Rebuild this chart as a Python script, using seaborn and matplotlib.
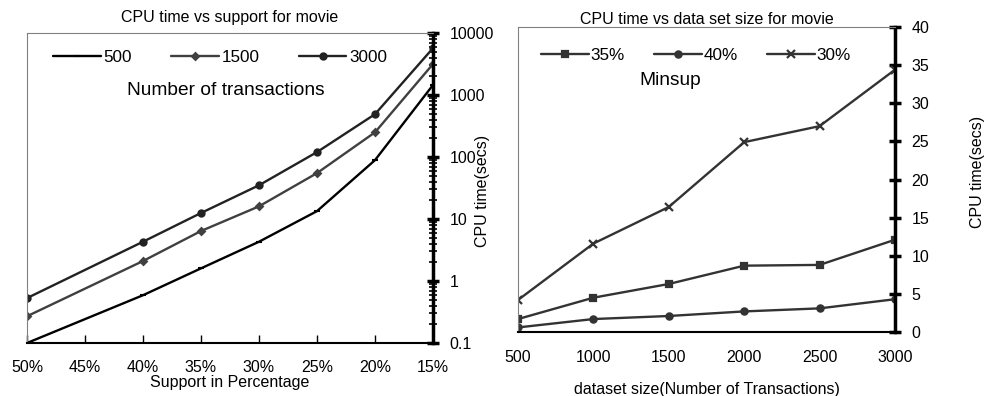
import numpy as np
import pandas as pd
import seaborn as sns
import matplotlib.pyplot as plt
from matplotlib.ticker import LogLocator, FixedLocator, NullFormatter

###############################################
# Data
###############################################

# left chart: cpu time vs support
support = [50, 40, 35, 30, 25, 20, 15]
support_ticks = [50, 45, 40, 35, 30, 25, 20, 15]
support_labels = ["50%", "45%", "40%", "35%", "30%", "25%", "20%", "15%"]
t500 = [0.1, 0.59, 1.6, 4.3, 13.4, 89, 1450]
t1500 = [0.27, 2.1, 6.4, 16, 55, 250, 3160]
t3000 = [0.53, 4.3, 12.5, 35, 120, 490, 5700]

# right chart: cpu time vs dataset size
dsize = [500, 1000, 1500, 2000, 2500, 3000]
m35 = [1.7, 4.5, 6.3, 8.7, 8.8, 12.1]
m40 = [0.6, 1.7, 2.1, 2.7, 3.1, 4.3]
m30 = [4.2, 11.6, 16.4, 24.9, 27.0, 34.4]

sns.set_style("white")
plt.rcParams['font.family'] = ['Liberation Sans', 'DejaVu Sans']
plt.rcParams['text.color'] = "black"
plt.rcParams['axes.labelcolor'] = "black"
plt.rcParams['xtick.color'] = "black"
plt.rcParams['ytick.color'] = "black"

fig = plt.figure(figsize=(9.85, 3.96), dpi=100)
ax1 = fig.add_axes([0.0274, 0.1338, 0.4122, 0.7829])
ax2 = fig.add_axes([0.5259, 0.1616, 0.3827, 0.7702])

FS = 11.5


def style_spines(ax):
    for s in ["left", "top"]:
        ax.spines[s].set_color("#808080")
        ax.spines[s].set_linewidth(0.8)
    ax.spines["bottom"].set_color("black")
    ax.spines["bottom"].set_linewidth(1.5)
    ax.spines["right"].set_color("black")
    ax.spines["right"].set_linewidth(2.5)
    ax.spines["right"].set_visible(True)
    ax.spines["top"].set_visible(True)


###############################################
# Left chart
###############################################
left_series = [("500", t500, "#000000", "_", 5), ("1500", t1500, "#404040", "D", 3.5),
               ("3000", t3000, "#222222", "o", 4.5)]
for name, vals, col, mk, ms in left_series:
    d = pd.DataFrame({"support": support, "cpu": vals})
    sns.lineplot(data=d, x="support", y="cpu", ax=ax1, color=col, marker=mk,
                 markersize=ms, markeredgecolor=col, markeredgewidth=1.5,
                 linewidth=1.7, label=name)

ax1.set_yscale("log")
ax1.set_ylim(0.1, 10000)
ax1.set_xlim(50, 15)
ax1.yaxis.tick_right()
ax1.yaxis.set_label_position("right")
ax1.yaxis.set_minor_locator(LogLocator(base=10, subs=np.arange(2, 10), numticks=10))
ax1.yaxis.set_minor_formatter(NullFormatter())
ax1.set_yticks([0.1, 1, 10, 100, 1000, 10000])
ax1.set_yticklabels(["0.1", "1", "10", "100", "1000", "10000"])
ax1.tick_params(axis="y", which="major", direction="inout", length=8, width=2.5,
                pad=8, labelsize=FS, colors="black", right=True, left=False)
ax1.tick_params(axis="y", which="minor", direction="inout", length=6, width=1.2,
                right=True, left=False)
ax1.xaxis.set_major_locator(FixedLocator(support_ticks))
ax1.set_xticklabels(support_labels)
ax1.tick_params(axis="x", direction="in", length=6, width=1, pad=12, labelsize=FS,
                bottom=True)
style_spines(ax1)

ax1.set_xlabel("Support in Percentage", fontsize=FS)
ax1.xaxis.set_label_coords(0.5, -0.103)
ax1.set_ylabel("CPU time(secs)", fontsize=FS)
ax1.yaxis.set_label_coords(1.103, 0.49)
ax1.set_title("CPU time vs support for movie", fontsize=FS, pad=8)

ax1.legend(ncol=3, frameon=False, loc="center", bbox_to_anchor=(0.475, 0.92),
           fontsize=12.3, handlelength=2.8, columnspacing=2.3, handletextpad=0.15)
ax1.text(0.49, 0.816, "Number of transactions", transform=ax1.transAxes,
         ha="center", va="center", fontsize=13.8)

###############################################
# Right chart
###############################################
right_series = [("35%", m35, "s", 4), ("40%", m40, "o", 4.5), ("30%", m30, "x", 6)]
for name, vals, mk, ms in right_series:
    d = pd.DataFrame({"size": dsize, "cpu": vals})
    sns.lineplot(data=d, x="size", y="cpu", ax=ax2, color="#333333", marker=mk,
                 markersize=ms, markeredgecolor="#333333", markeredgewidth=1.6,
                 linewidth=1.7, label=name)

ax2.set_xlim(500, 3000)
ax2.set_ylim(0, 40)
ax2.set_xticks(dsize)
ax2.set_yticks(range(0, 41, 5))
ax2.yaxis.tick_right()
ax2.yaxis.set_label_position("right")
ax2.tick_params(axis="y", direction="inout", length=8, width=2.5, pad=8,
                labelsize=FS, right=True, left=False)
ax2.tick_params(axis="x", length=0, pad=13, labelsize=FS)
style_spines(ax2)

ax2.set_xlabel("dataset size(Number of Transactions)", fontsize=FS)
ax2.xaxis.set_label_coords(0.5, -0.164)
ax2.set_ylabel("CPU time(secs)", fontsize=FS)
ax2.yaxis.set_label_coords(1.200, 0.525)
ax2.set_title("CPU time vs data set size for movie", fontsize=FS, pad=2)

ax2.legend(ncol=3, frameon=False, loc="center", bbox_to_anchor=(0.472, 0.908),
           fontsize=12.3, handlelength=2.8, columnspacing=1.7, handletextpad=0.1)
ax2.text(0.403, 0.826, "Minsup", transform=ax2.transAxes,
         ha="center", va="center", fontsize=13.8)

fig.savefig("out.png", dpi=100)
